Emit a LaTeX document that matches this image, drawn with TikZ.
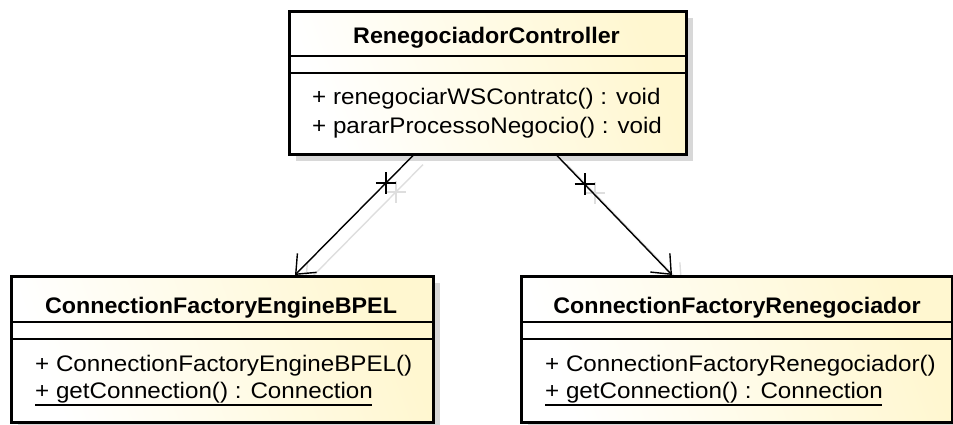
\documentclass[tikz,border=0pt]{standalone}
\usepackage{fontspec}
\usepackage{graphicx}
\setmainfont{Liberation Sans}
\usetikzlibrary{arrows.meta,calc}

\definecolor{classfill}{RGB}{255,247,208}
\definecolor{shadowgray}{RGB}{216,216,216}
\definecolor{shadowline}{RGB}{222,222,222}

% class-diagram text: Liberation Sans, slightly widened
\newcommand{\wide}[1]{\scalebox{1.075}[1]{#1}}
\newcommand{\widebold}[1]{\scalebox{1.035}[1]{#1}}

\tikzset{
  classbox/.style={draw=black, line width=2.6pt, left color=white, right color=classfill,
    shading angle=110, inner sep=0pt, anchor=north west},
  boxshadow/.style={fill=shadowgray, draw=none, inner sep=0pt, anchor=north west},
  divider/.style={line width=1.6pt},
  title/.style={font=\fontsize{22.5}{27}\selectfont\bfseries, anchor=base, inner sep=0pt},
  member/.style={font=\fontsize{22.5}{27}\selectfont, anchor=base west, inner sep=0pt},
  assoc/.style={line width=1.4pt, -{Straight Barb[length=16pt,width=27pt,line width=1.4pt]}},
  assocshadow/.style={assoc, draw=shadowline},
  endmark/.style={line width=1.8pt},
}

\begin{document}
\begin{tikzpicture}[x=1pt,y=-1pt]
\useasboundingbox (0,0) rectangle (953,424);

% drop shadows of the class boxes
\node[boxshadow, minimum width=397pt, minimum height=143pt] (ctrlsh) at (296,18) {};
\node[boxshadow, minimum width=422pt, minimum height=146pt] (bpelsh) at (18,283) {};
\node[boxshadow, minimum width=431pt, minimum height=146pt] (renegsh) at (528,283) {};

% class boxes
\node[classbox, minimum width=397pt, minimum height=143pt] (ctrl) at (288,10) {};
\node[classbox, minimum width=422pt, minimum height=146pt] (bpel) at (10,275) {};
\node[classbox, minimum width=431pt, minimum height=146pt] (reneg) at (520,275) {};

% association end points
\coordinate (l0) at (ctrl.south -| 413,0);
\coordinate (l1) at (bpel.north -| 295,0);
\coordinate (r0) at (ctrl.south -| 557,0);
\coordinate (r1) at (reneg.north -| 672,0);
\coordinate (l0s) at ($(l0)+(10,9)$);
\coordinate (l1s) at ($(l1)+(10,9)$);
\coordinate (r0s) at ($(r0)+(10,9)$);
\coordinate (r1s) at ($(r1)+(10,9)$);

% shadows of the associations
\draw[assocshadow] (l0s) -- (l1s) coordinate[pos=0.23] (lms);
\draw[assocshadow] (r0s) -- (r1s) coordinate[pos=0.24] (rms);
\draw[endmark, draw=shadowline] ($(lms)+(-10,0)$) -- ++(20,0) ($(lms)+(0,-11)$) -- ++(0,22);
\draw[endmark, draw=shadowline] ($(rms)+(-10,0)$) -- ++(20,0) ($(rms)+(0,-11)$) -- ++(0,22);

% box faces drawn again over the connector shadows
\node[classbox, minimum width=397pt, minimum height=143pt] (ctrlface) at (288,10) {};
\node[classbox, minimum width=422pt, minimum height=146pt] (bpelface) at (10,275) {};
\node[classbox, minimum width=431pt, minimum height=146pt] (renegface) at (520,275) {};

% associations
\draw[assoc] (l0) -- (l1) coordinate[pos=0.23] (lm);
\draw[assoc] (r0) -- (r1) coordinate[pos=0.24] (rm);
\draw[endmark] ($(lm)+(-10,0)$) -- ++(20,0) ($(lm)+(0,-11)$) -- ++(0,22);
\draw[endmark] ($(rm)+(-10,0)$) -- ++(20,0) ($(rm)+(0,-11)$) -- ++(0,22);

% RenegociadorController
\draw[divider] (288,56) -- (685,56) (288,73) -- (685,73);
\node[title] (ctrlname) at (486.5,43) {\widebold{RenegociadorController}};
\node[member] (ctrlm1) at (312,104) {\wide{+ renegociarWSContratc() : void}};
\node[member] (ctrlm2) at (312,133) {\wide{+ pararProcessoNegocio() : void}};

% ConnectionFactoryEngineBPEL
\draw[divider] (10,322) -- (432,322) (10,339) -- (432,339);
\node[title] (bpelname) at (221,313) {\widebold{ConnectionFactoryEngineBPEL}};
\node[member] (bpelm1) at (35,371) {\wide{+ ConnectionFactoryEngineBPEL()}};
\node[member] (bpelm2) at (35,398) {\wide{+ getConnection() : Connection}};
\draw[line width=1.3pt] (bpelm2.base west) ++(0,7) -- ++(337,0) coordinate (bpelul);

% ConnectionFactoryRenegociador
\draw[divider] (520,322) -- (951,322) (520,339) -- (951,339);
\node[title] (renegname) at (737,313) {\widebold{ConnectionFactoryRenegociador}};
\node[member] (renegm1) at (545,371) {\wide{+ ConnectionFactoryRenegociador()}};
\node[member] (renegm2) at (545,398) {\wide{+ getConnection() : Connection}};
\draw[line width=1.3pt] (renegm2.base west) ++(0,7) -- ++(337,0) coordinate (renegul);
\end{tikzpicture}
\end{document}
